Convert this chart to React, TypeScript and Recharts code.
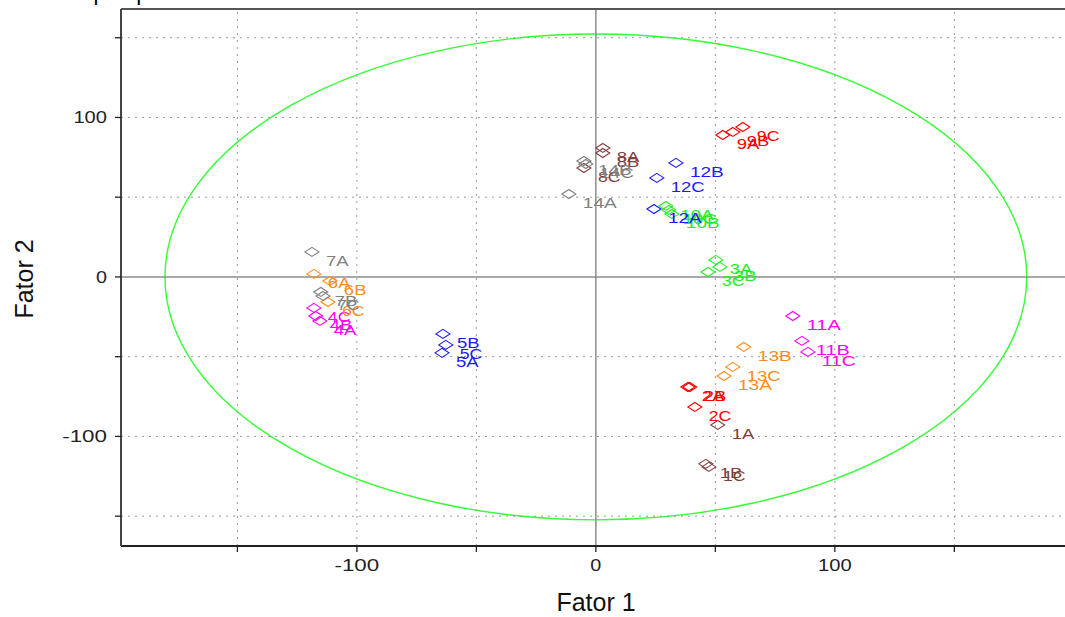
import React from 'react'
import {
  ScatterChart, Scatter, XAxis, YAxis, ReferenceLine, ReferenceArea,
} from 'recharts'

const W = 1065
const H = 617

// sample labels and their factor scores
const labels = [
  '1A', '1B', '1C', '2A', '2B', '2C', '3A', '3B', '3C',
  '4A', '4B', '4C', '5A', '5B', '5C', '6A', '6B', '6C',
  '7A', '7B', '7C', '8A', '8B', '8C', '9A', '9B', '9C',
  '10A', '10B', '10C', '11A', '11B', '11C', '12A', '12B', '12C',
  '13A', '13B', '13C', '14A', '14B', '14C',
]
const fator1 = [
  51.0, 46.0, 47.3, 38.5, 39.3, 41.4, 50.2, 51.9, 46.9,
  -115.5, -117.2, -118.0, -64.4, -64.0, -62.8, -118.0, -111.3, -112.1,
  -118.8, -115.1, -114.2, 2.9, 2.9, -5.0, 53.1, 57.3, 61.5,
  29.3, 31.8, 30.5, 82.4, 86.2, 88.7, 24.3, 33.5, 25.5,
  53.6, 61.9, 57.3, -11.3, -5.0, -4.2,
]
const fator2 = [
  -92.8, -117.2, -119.1, -69.0, -69.0, -81.5, 10.7, 6.3, 3.1,
  -27.6, -24.5, -19.4, -47.6, -35.7, -42.6, 1.9, -2.5, -15.7,
  15.7, -9.4, -11.9, 80.9, 77.7, 68.3, 89.0, 90.9, 94.0,
  44.5, 39.5, 42.0, -24.5, -40.1, -47.0, 42.6, 71.5, 62.1,
  -62.1, -43.9, -56.4, 52.0, 72.7, 70.8,
]
// colour per sample number
const sampleColors: Record<string, string> = {
  '1': '#804040', '2': '#ff0000', '3': '#22ee22', '4': '#ff00ff', '5': '#1a1aff',
  '6': '#ff8c1a', '7': '#808080', '8': '#804040', '9': '#ff0000', '10': '#22ee22',
  '11': '#ff00ff', '12': '#1a1aff', '13': '#ff8c1a', '14': '#808080',
}

const axisTicks = [-150, -100, -50, 0, 50, 100, 150]
const gridValues = [-150, -100, -50, 50, 100, 150]
const labelledTicks = [-100, 0, 100]
const X_DOMAIN: [number, number] = [-198.7, 196.3]
const Y_DOMAIN: [number, number] = [-168.7, 168.0]
const ELLIPSE_RX = 180.3
const ELLIPSE_RY = 152.3

const data = labels.map((label, i) => ({
  x: fator1[i],
  y: fator2[i],
  label,
  color: sampleColors[label.replace(/[A-Z]/g, '')],
}))

const FONT = '"Liberation Sans", Arial, sans-serif'

function Diamond(props: any) {
  const { cx, cy, payload } = props
  if (cx == null || cy == null) return null
  const d = `M${cx - 7},${cy} L${cx},${cy - 4.5} L${cx + 7},${cy} L${cx},${cy + 4.5} Z`
  return (
    <g>
      <path d={d} fill="none" stroke={payload.color} strokeWidth={1.1} />
      <text
        x={cx + 14}
        y={cy + 14}
        fill={payload.color}
        fontSize={14}
        fontFamily={FONT}
        textLength={payload.label.length * 11.3}
        lengthAdjust="spacingAndGlyphs"
      >
        {payload.label}
      </text>
    </g>
  )
}

function XTick({ x, y, payload }: any) {
  if (!labelledTicks.includes(payload.value)) return null
  const s = String(payload.value)
  return (
    <text x={x} y={y + 17} textAnchor="middle" fontSize={16} fontFamily={FONT} fill="#222"
      textLength={s.length === 1 ? 11 : s.length * 11.2} lengthAdjust="spacingAndGlyphs">
      {s}
    </text>
  )
}

function YTick({ x, y, payload }: any) {
  if (!labelledTicks.includes(payload.value)) return null
  const s = String(payload.value)
  return (
    <text x={x - 6} y={y + 6} textAnchor="end" fontSize={16} fontFamily={FONT} fill="#222"
      textLength={s.length === 1 ? 11 : s.length * 11.2} lengthAdjust="spacingAndGlyphs">
      {s}
    </text>
  )
}

export default function App() {
  return (
    <div style={{ position: 'absolute', left: 0, top: 0, width: W, height: H, background: '#fff', overflow: 'hidden', fontFamily: FONT }}>
      <div style={{ position: 'absolute', left: 8, top: -18, fontSize: 22, lineHeight: '22px', color: '#000', whiteSpace: 'nowrap' }}>
        amostra pesquisa
      </div>
      <ScatterChart width={W} height={H} margin={{ top: 9, right: 0, bottom: 0, left: 0 }}>
        <ReferenceArea
          x1={-ELLIPSE_RX} x2={ELLIPSE_RX} y1={-ELLIPSE_RY} y2={ELLIPSE_RY}
          ifOverflow="visible"
          shape={(p: any) => (
            <ellipse
              cx={p.x + p.width / 2}
              cy={p.y + p.height / 2}
              rx={Math.abs(p.width) / 2}
              ry={Math.abs(p.height) / 2}
              fill="none"
              stroke="#33ff33"
              strokeWidth={1.4}
            />
          )}
        />
        {gridValues.map((v) => (
          <ReferenceLine key={`gx${v}`} x={v} stroke="#9a9a9a" strokeDasharray="2 5" />
        ))}
        {gridValues.map((v) => (
          <ReferenceLine key={`gy${v}`} y={v} stroke="#9a9a9a" strokeDasharray="2 5" />
        ))}
        <ReferenceLine x={0} stroke="#8c8c8c" strokeWidth={1.5} />
        <ReferenceLine y={0} stroke="#8c8c8c" strokeWidth={1.5} />
        <ReferenceLine y={Y_DOMAIN[1]} stroke="#555" strokeWidth={2} />
        <XAxis
          type="number"
          dataKey="x"
          domain={X_DOMAIN}
          allowDataOverflow
          ticks={axisTicks}
          interval={0}
          height={71}
          tickSize={6}
          tickMargin={2}
          tick={<XTick />}
          axisLine={{ stroke: '#222', strokeWidth: 2 }}
          tickLine={{ stroke: '#222', strokeWidth: 1.3 }}
        />
        <YAxis
          type="number"
          dataKey="y"
          domain={Y_DOMAIN}
          allowDataOverflow
          ticks={axisTicks}
          interval={0}
          width={121}
          tickSize={6}
          tickMargin={2}
          tick={<YTick />}
          axisLine={{ stroke: '#444', strokeWidth: 2 }}
          tickLine={{ stroke: '#222', strokeWidth: 1.3 }}
        />
        <Scatter data={data} shape={<Diamond />} isAnimationActive={false} />
      </ScatterChart>
      <div style={{ position: 'absolute', left: 596, top: 602, transform: 'translate(-50%, -50%)', fontSize: 25, color: '#111', whiteSpace: 'nowrap' }}>
        Fator 1
      </div>
      <div style={{ position: 'absolute', left: 24, top: 279, transform: 'translate(-50%, -50%) rotate(-90deg)', fontSize: 25, color: '#111', whiteSpace: 'nowrap' }}>
        Fator 2
      </div>
    </div>
  )
}
